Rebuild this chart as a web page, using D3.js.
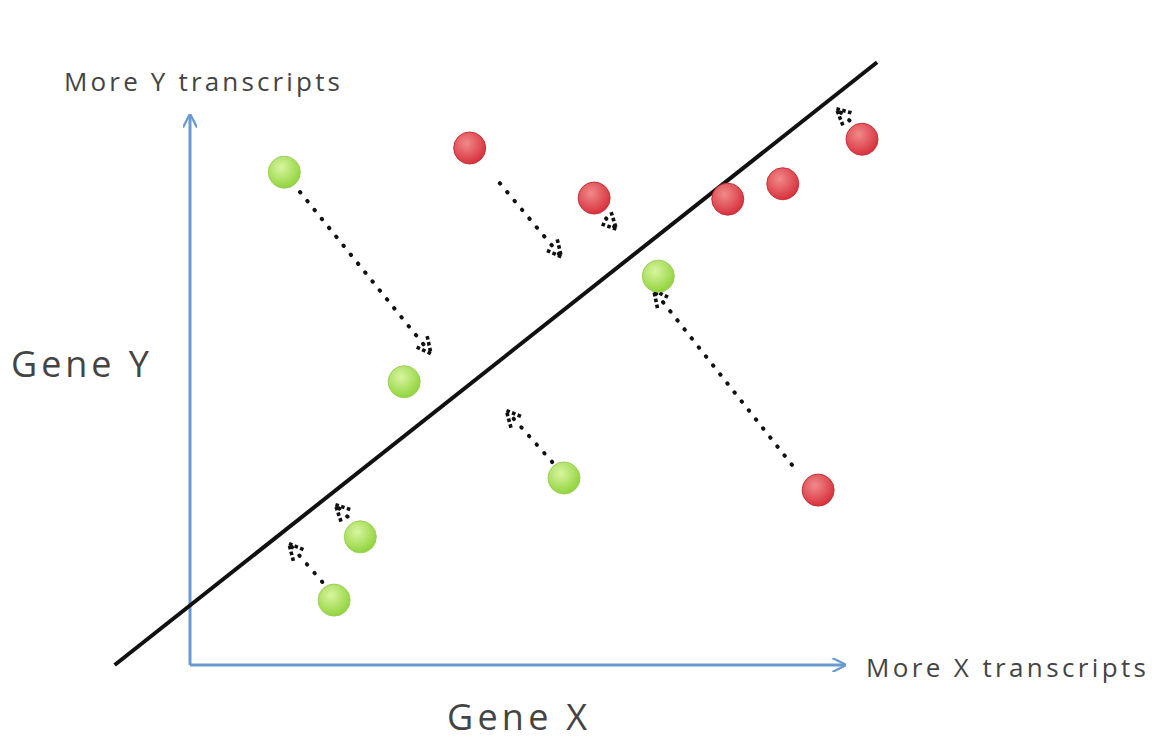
<!DOCTYPE html>
<html><head><meta charset="utf-8">
<script src="https://cdn.jsdelivr.net/npm/d3@7"></script>
<style>body{margin:0;background:#fff}text{font-family:"Open Sans",Lato,sans-serif;fill:#444}</style>
</head><body><svg id="c" width="1157" height="754"></svg>
<script>
const greenX=[14.4,32.7,57.1,26.0,22.0,71.5];
const greenY=[89.6,51.5,34.0,23.3,11.8,70.7];
const redX=[42.7,61.7,82.1,90.5,102.6,95.9];
const redY=[94.0,84.9,84.7,87.5,95.6,31.8];
const fitLine=[[-11.5,0],[104.9,109.6]];
const arrows=[[16.8,86.0,36.6,56.9],[47.3,87.6,56.5,74.5],[62.3,82.7,64.9,79.5],[102,97.6,98.9,100.9],
[55.3,36.9,48.5,46.0],[91.9,36.4,71.0,67.8],[25.3,25.5,22.4,28.9],[20.2,15.1,15.3,21.8]];
const svg=d3.select("#c");
const x=d3.scaleLinear().domain([0,100]).range([190,845]);
const y=d3.scaleLinear().domain([0,100]).range([665,115]);
const defs=svg.append("defs");
defs.append("marker").attr("id","ax").attr("viewBox","0 0 10 10").attr("refX",9).attr("refY",5)
 .attr("markerWidth",14).attr("markerHeight",14).attr("orient","auto").attr("markerUnits","userSpaceOnUse")
 .append("path").attr("d","M0,0L10,5L0,10").attr("fill","none").attr("stroke","#6a9ad0").attr("stroke-width",1.6);
defs.append("marker").attr("id","ah").attr("viewBox","0 0 10 10").attr("refX",8).attr("refY",5)
 .attr("markerWidth",20).attr("markerHeight",20).attr("orient","auto").attr("markerUnits","userSpaceOnUse")
 .append("path").attr("d","M1,1L9,5L1,9").attr("fill","none").attr("stroke","#111").attr("stroke-width",1.8).attr("stroke-dasharray","1.8,1.2");
function grad(id,c1,c2){const g=defs.append("radialGradient").attr("id",id).attr("cx","40%").attr("cy","35%").attr("r","65%");
 g.append("stop").attr("offset","0%").attr("stop-color",c1);g.append("stop").attr("offset","100%").attr("stop-color",c2);}
grad("gg","#d8f5a0","#92d43e");grad("rg","#f08a8a","#d8323d");
svg.append("line").attr("x1",x(0)).attr("y1",y(0)).attr("x2",x(100)).attr("y2",y(0)).attr("stroke","#6a9ad0").attr("stroke-width",3).attr("marker-end","url(#ax)");
svg.append("line").attr("x1",x(0)).attr("y1",y(0)).attr("x2",x(0)).attr("y2",y(100)).attr("stroke","#6a9ad0").attr("stroke-width",3).attr("marker-end","url(#ax)");
svg.append("line").attr("x1",x(fitLine[0][0])).attr("y1",y(fitLine[0][1])).attr("x2",x(fitLine[1][0])).attr("y2",y(fitLine[1][1])).attr("stroke","#111").attr("stroke-width",4);
svg.selectAll(".ar").data(arrows).join("line").attr("x1",d=>x(d[0])).attr("y1",d=>y(d[1])).attr("x2",d=>x(d[2])).attr("y2",d=>y(d[3]))
 .attr("stroke","#111").attr("stroke-width",4).attr("stroke-dasharray","0.5,11").attr("stroke-linecap","round").attr("marker-end","url(#ah)");
const g=greenX.map((v,i)=>[v,greenY[i]]), r=redX.map((v,i)=>[v,redY[i]]);
svg.selectAll(".g").data(g).join("circle").attr("cx",d=>x(d[0])).attr("cy",d=>y(d[1])).attr("r",16).attr("fill","url(#gg)").attr("stroke","#9ccf5a").attr("stroke-width",1);
svg.selectAll(".r").data(r).join("circle").attr("cx",d=>x(d[0])).attr("cy",d=>y(d[1])).attr("r",16).attr("fill","url(#rg)").attr("stroke","#c83038").attr("stroke-width",1);
svg.append("text").attr("x",64).attr("y",91).attr("font-size",26).attr("textLength",276).text("More Y transcripts");
svg.append("text").attr("x",11).attr("y",377).attr("font-size",36).attr("textLength",138).text("Gene Y");
svg.append("text").attr("x",447).attr("y",730).attr("font-size",36).attr("textLength",140).text("Gene X");
svg.append("text").attr("x",866).attr("y",677).attr("font-size",26).attr("textLength",280).text("More X transcripts");
</script></body></html>
